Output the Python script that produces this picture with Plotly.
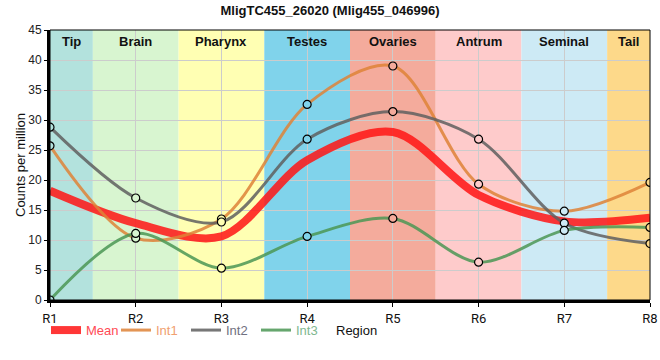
import plotly.graph_objects as go

regions = ["R1", "R2", "R3", "R4", "R5", "R6", "R7", "R8"]
band_labels = ["Tip", "Brain", "Pharynx", "Testes", "Ovaries", "Antrum", "Seminal", "Tail"]
band_colors = ["#b3e2dd", "#d8f5d0", "#ffffb3", "#80d3eb", "#f4ab9c", "#fecbcb", "#cdeaf5", "#fdd98a"]

mean = [18.2, 12.8, 10.6, 23.3, 28.0, 17.5, 13.1, 13.7]
int1 = [25.7, 10.3, 13.5, 32.6, 39.0, 19.3, 14.8, 19.6]
int2 = [28.8, 17.0, 13.0, 26.8, 31.4, 26.8, 12.8, 9.4]
int3 = [0.0, 11.1, 5.3, 10.6, 13.6, 6.3, 11.6, 12.1]

title = "MligTC455_26020 (Mlig455_046996)"
FONT = "Liberation Sans, Arial, sans-serif"

fig = go.Figure()

# background bands
for i, (lab, col) in enumerate(zip(band_labels, band_colors)):
    x0 = max(i - 0.5, 0)
    x1 = min(i + 0.5, len(regions) - 1)
    fig.add_shape(type="rect", xref="x", yref="paper", x0=x0, x1=x1, y0=0, y1=1,
                  fillcolor=col, line_width=0, layer="below")
    fig.add_annotation(x=(x0 + x1) / 2, y=1, xref="x", yref="paper", yanchor="top",
                       yshift=-2, text="<b>%s</b>" % lab, showarrow=False,
                       font=dict(size=13, color="#111", family=FONT))

mean_col = "rgba(255,20,20,0.85)"
series = [("Int1", int1, "rgba(222,130,55,0.85)", "#f0a070"),
          ("Int2", int2, "rgba(95,95,95,0.85)", "#707080"),
          ("Int3", int3, "rgba(75,150,85,0.85)", "#80b890")]

fig.add_trace(go.Scatter(x=regions, y=mean, mode="lines", showlegend=False,
                         line=dict(color=mean_col, width=8, shape="spline", smoothing=0.9)))
for name, vals, col, tcol in series:
    fig.add_trace(go.Scatter(x=regions, y=vals, mode="lines+markers", showlegend=False,
                             line=dict(color=col, width=3, shape="spline", smoothing=0.9),
                             marker=dict(size=8, color=band_colors, symbol="circle",
                                         line=dict(color="black", width=1.2))))

# legend-only entries (lines without markers)
fig.add_trace(go.Scatter(x=[None], y=[None], mode="lines",
                         name="<span style='color:#ff4a55'>Mean</span>",
                         line=dict(color=mean_col, width=8)))
for name, vals, col, tcol in series:
    fig.add_trace(go.Scatter(x=[None], y=[None], mode="lines",
                             name="<span style='color:%s'>%s</span>" % (tcol, name),
                             line=dict(color=col, width=3)))

fig.update_layout(
    width=660, height=360,
    margin=dict(l=50, r=10, t=30, b=60, autoexpand=False),
    paper_bgcolor="white", plot_bgcolor="white",
    font=dict(family=FONT, size=12, color="#222"),
    title=dict(text="<b>%s</b>" % title, x=0.5, xref="container", y=1 - 10 / 360,
               yref="container", yanchor="middle", automargin=False,
               font=dict(size=13, color="#111")),
    showlegend=True,
    legend=dict(orientation="h", x=-4 / 600, xanchor="left", y=-0.056, yanchor="top",
                font=dict(size=13), entrywidth=25, bgcolor="rgba(0,0,0,0)",
                itemwidth=30, tracegroupgap=0),
)
fig.update_xaxes(type="category", range=[0, len(regions) - 1], showgrid=True, gridcolor="#cccccc",
                 showline=True, linecolor="black", linewidth=3, ticks="outside", ticklen=4,
                 tickcolor="black", tickfont=dict(size=13, color="#111", family="Roboto, " + FONT),
                 automargin=False, zeroline=False)
fig.update_yaxes(range=[0, 45], dtick=5, showgrid=True, gridcolor="#cccccc", showline=True,
                 linecolor="black", linewidth=3, ticks="outside", ticklen=3, tickcolor="black",
                 tickfont=dict(size=12, color="#222"), zeroline=False, automargin=False)
fig.add_annotation(text="Region", xref="paper", yref="paper", x=0.51, y=-31 / 270,
                   xanchor="center", yanchor="middle", showarrow=False,
                   font=dict(size=13, color="#111"))
fig.add_annotation(text="Counts per million", xref="paper", yref="paper", x=-30 / 600, y=0.5,
                   xanchor="center", yanchor="middle", textangle=-90, showarrow=False,
                   font=dict(size=13, color="#111"))
fig.add_shape(type="rect", xref="paper", yref="paper", x0=0, x1=1, y0=0, y1=1,
              line=dict(color="black", width=1), layer="above")

fig.write_html("out.html", config={"displayModeBar": False},
               post_script="document.body.style.margin='0';")
